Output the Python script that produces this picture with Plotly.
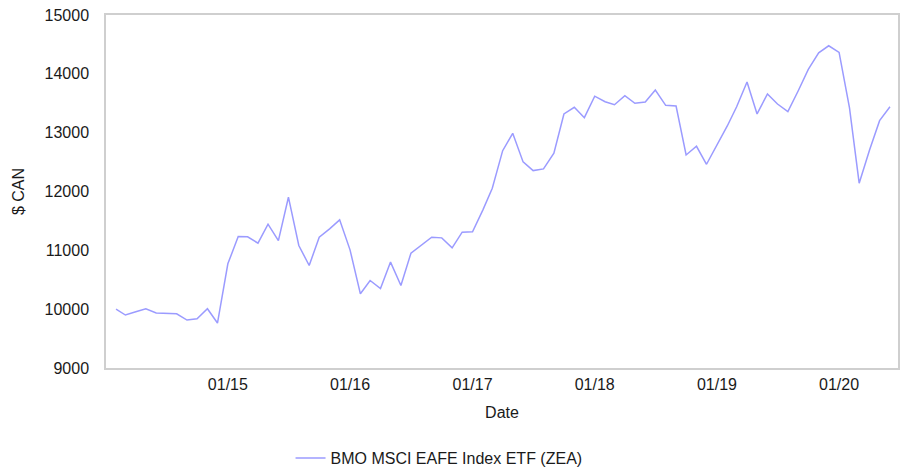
import pandas as pd
import plotly.graph_objects as go

# Monthly growth of a $10,000 investment, Feb 2014 - Jun 2020
dates = pd.date_range("2014-02-01", "2020-06-01", freq="MS")
values = [
    10000, 9900, 9956, 10007, 9934, 9922, 9922, 9815, 9837, 10007, 9764,
    10771, 11234, 11229, 11122, 11445, 11166, 11903, 11082, 10742, 11224,
    11365, 11518, 11008, 10261, 10487, 10350, 10800, 10402, 10952, 11082,
    11224, 11212, 11042, 11309, 11314, 11688, 12056, 12694, 12990, 12503,
    12355, 12384, 12650, 13318, 13431, 13255, 13620, 13526, 13475, 13628,
    13499, 13521, 13725, 13465, 13453, 12621, 12769, 12463, 12779, 13114,
    13441, 13861, 13318, 13657, 13487, 13357, 13713, 14076, 14358, 14477,
    14365, 13424, 12141, 12706, 13204, 13441,
]
series_name = "BMO MSCI EAFE Index ETF (ZEA)"

tick_dates = ["2015-01-01", "2016-01-01", "2017-01-01", "2018-01-01",
              "2019-01-01", "2020-01-01"]
tick_text = ["01/15", "01/16", "01/17", "01/18", "01/19", "01/20"]
y_ticks = [9000, 10000, 11000, 12000, 13000, 14000, 15000]
y_tick_text = [str(v) for v in y_ticks]

fig = go.Figure()
fig.add_trace(go.Scatter(
    x=dates, y=values, mode="lines", name=series_name,
    line=dict(color="#9b9bff", width=1.5),
    showlegend=True,
))

font = dict(family="Liberation Sans, Arial, sans-serif", size=16, color="#1a1a1a")

fig.update_layout(
    width=902, height=468,
    margin=dict(l=106, r=4, t=15, b=100, autoexpand=False),
    paper_bgcolor="white", plot_bgcolor="white",
    font=font,
    showlegend=True,
    legend=dict(orientation="h", x=0.233, xanchor="left",
                yref="container", y=0.021, yanchor="middle", font=font,
                bgcolor="rgba(0,0,0,0)"),
    xaxis=dict(
        range=["2014-01-02", "2020-06-25"],
        tickmode="array", tickvals=tick_dates, ticktext=tick_text,
        showgrid=False, zeroline=False, automargin=False,
        showline=True, mirror=True, linecolor="#cfcfcf", linewidth=1.5,
        ticks="outside", ticklen=1, tickcolor="rgba(0,0,0,0)",
        title=dict(text="Date", standoff=15, font=font),
    ),
    yaxis=dict(
        range=[9000, 15000],
        tickmode="array", tickvals=y_ticks, ticktext=y_tick_text,
        showgrid=False, zeroline=False, automargin=False,
        showline=True, mirror=True, linecolor="#cfcfcf", linewidth=1.5,
        ticks="outside", ticklen=12, tickcolor="rgba(0,0,0,0)",
        title=dict(text="$ CAN", standoff=16, font=font),
    ),
)

fig.write_html("out.html")
